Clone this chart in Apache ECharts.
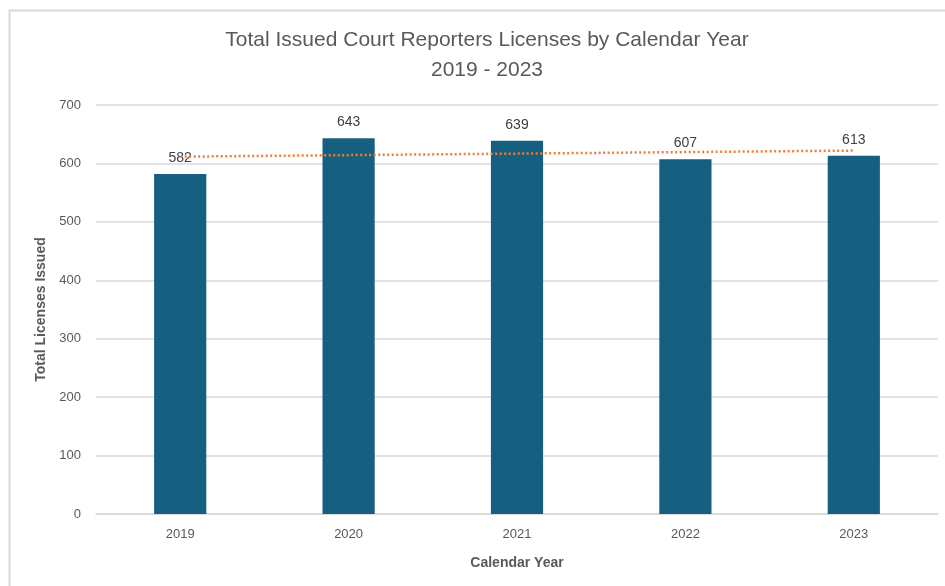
<!DOCTYPE html>
<html><head><meta charset="utf-8">
<script src="https://cdn.jsdelivr.net/npm/echarts@6/dist/echarts.min.js"></script>
<style>html,body{margin:0;padding:0;background:#fff}#c{width:945px;height:586px}</style>
</head><body><div id="c"></div>
<script>
const categories = ['2019', '2020', '2021', '2022', '2023'];
const licenses = [582, 643, 639, 607, 613];
const trendEnds = [611.6, null, null, null, 622.0];
const yTicks = { min: 0, max: 700, interval: 100 };

const chart = echarts.init(document.getElementById('c'), null, { renderer: 'canvas' });
chart.setOption({
  animation: false,
  backgroundColor: '#fff',
  graphic: [{
    type: 'rect', left: 7, top: 8, shape: { width: 1000, height: 700 },
    style: { fill: 'none', stroke: '#d9d9d9', lineWidth: 2 }, silent: true
  }],
  title: {
    text: 'Total Issued Court Reporters Licenses by Calendar Year\n2019 - 2023',
    left: 482, top: 20, textAlign: 'center',
    textStyle: { fontFamily: 'Liberation Sans', fontWeight: 'normal', fontSize: 21, color: '#595959', lineHeight: 30 }
  },
  grid: { left: 96, right: 7, top: 105, bottom: 72, containLabel: false },
  xAxis: {
    type: 'category', data: categories,
    name: 'Calendar Year', nameLocation: 'middle', nameGap: 42,
    nameTextStyle: { fontFamily: 'Liberation Sans', fontWeight: 'bold', fontSize: 14, color: '#595959' },
    axisLine: { lineStyle: { color: '#d9d9d9', width: 1.5 } },
    axisTick: { show: false },
    axisLabel: { color: '#595959', fontFamily: 'Liberation Sans', fontSize: 13, margin: 14 }
  },
  yAxis: {
    type: 'value', min: yTicks.min, max: yTicks.max, interval: yTicks.interval,
    name: 'Total Licenses Issued', nameLocation: 'middle', nameGap: 43,
    nameTextStyle: { fontFamily: 'Liberation Sans', fontWeight: 'bold', fontSize: 14, color: '#595959' },
    axisLine: { show: false }, axisTick: { show: false },
    splitLine: { lineStyle: { color: '#d9d9d9', width: 1.5 } },
    axisLabel: { color: '#595959', fontFamily: 'Liberation Sans', fontSize: 13, margin: 15 }
  },
  series: [{
    type: 'bar', data: licenses, barWidth: '31%',
    itemStyle: { color: '#175F80' },
    label: { show: true, position: 'top', distance: 9, color: '#404040', fontFamily: 'Liberation Sans', fontSize: 14 }
  }, {
    type: 'line', data: trendEnds, connectNulls: true, symbol: 'none',
    lineStyle: { color: '#ED7D31', width: 2.5, type: [2, 2.5] }, z: 5
  }]
});
</script></body></html>
